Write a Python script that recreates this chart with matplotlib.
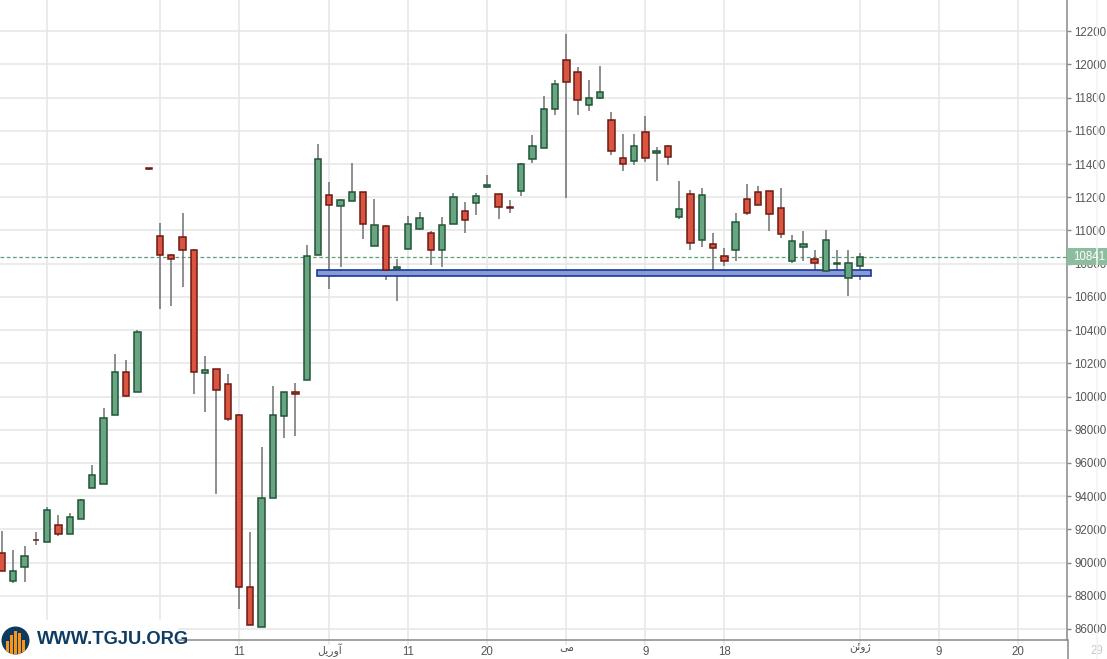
import matplotlib
matplotlib.use("Agg")
import matplotlib.pyplot as plt
from matplotlib.patches import Rectangle, Circle
from matplotlib.lines import Line2D
import matplotlib.transforms as mtransforms

plt.rcParams['font.family'] = ['Liberation Sans', 'DejaVu Sans']

# ---------------- data (daily candles, by trading-day index) ----------------
opens = [90560, 88900, 89750, 91380, 91250, 92240, 91740, 92640, 94510, 94750,
         98870, 101460, 100250, 113720, 109650, 108510, 109590, 108810, 101400, 101640,
         100740, 98870, 88510, 86130, 93870, 98810, 100250, 100980, 108510, 112120,
         111460, 111760, 112300, 109050, 110250, 107660, 108870, 110070, 109830, 108810,
         110370, 111160, 111640, 112600, 112180, 111400, 112360, 114290, 114950, 117300,
         120250, 119530, 117540, 117960, 116640, 114350, 114170, 115920, 114650, 115070,
         110800, 112220, 109410, 109170, 108450, 108810, 111880, 112300, 112360, 111340,
         108150, 108990, 108270, 107540, 107990, 107120, 107840]
highs = [91900, 90750, 90990, 91840, 93340, 92860, 92980, 93830, 95870, 99310,
         102560, 102200, 103990, 113760, 110450, 108580, 111050, 108890, 102440, 101640,
         101360, 98950, 91840, 96960, 100630, 100250, 100810, 109130, 115210, 112920,
         111900, 114050, 112300, 111880, 110310, 108300, 110860, 111100, 109950, 110800,
         112240, 111700, 112240, 113330, 112180, 111820, 114050, 115740, 118080, 119050,
         121820, 119830, 119050, 119890, 117120, 115800, 115800, 116880, 115010, 115130,
         112960, 112420, 112540, 109830, 108930, 111040, 112780, 112660, 112360, 112540,
         109710, 109950, 108810, 110010, 108810, 108810, 108630]
lows = [89500, 88780, 88840, 91070, 91250, 91620, 91740, 92640, 94510, 94750,
        98870, 99990, 100250, 113650, 105270, 105450, 106600, 100170, 99090, 94130,
        98540, 87220, 86220, 86130, 93870, 97520, 97640, 100980, 108510, 106490,
        107820, 111760, 109510, 109050, 107040, 105770, 108870, 110010, 107940, 107820,
        110370, 109830, 110920, 112540, 110680, 111040, 112060, 114050, 114950, 116940,
        111980, 116940, 117180, 117900, 114530, 113570, 113930, 114110, 112960, 113930,
        110680, 108840, 109020, 107600, 107840, 108150, 110920, 111520, 109950, 109530,
        108020, 108150, 107360, 107540, 107600, 106040, 107000]
closes = [89510, 89470, 90370, 91340, 93150, 91740, 92720, 93750, 95250, 98690,
          101460, 100050, 103870, 113700, 108540, 108270, 108840, 101460, 101580, 100370,
          98660, 88540, 86220, 93870, 98870, 100250, 100130, 108480, 114290, 111520,
          111820, 112300, 110370, 110310, 107600, 107780, 110370, 110740, 108810, 110310,
          112000, 110610, 112060, 112720, 111400, 111370, 113990, 115070, 117300, 118810,
          118930, 117840, 117960, 118330, 114770, 113990, 115070, 114350, 114770, 114410,
          111280, 109230, 112120, 108930, 108150, 110490, 111040, 111520, 110980, 109770,
          109350, 109170, 108020, 109410, 108010, 108020, 108410]

# support zone (blue box)
zone_start, zone_end = 27.9, 77.0
zone_low, zone_high = 107240, 107600

# axis ticks / labels
y_ticks = [86000, 88000, 90000, 92000, 94000, 96000, 98000, 100000, 102000, 104000,
           106000, 108000, 110000, 112000, 114000, 116000, 118000, 120000, 122000]
y_labels = ["86000", "88000", "90000", "92000", "94000", "96000", "98000", "10000", "10200",
            "10400", "10600", "10800", "11000", "11200", "11400", "11600", "11800", "12000", "12200"]
x_ticks = [4, 14, 21, 29, 36, 43, 50, 57, 64, 76, 83, 90]
# Persian month names given in visual (shaped) order since matplotlib has no RTL shaping
x_labels = ["", "", "11", "\uFEDE\uFBFE\uFEAD\uFEED\uFE81", "11", "20", "\uFBFD\uFEE3",
            "9", "18", "\uFEE6\uFE8B\uFEED\uFB8A", "9", "20"]
edge_tick, edge_label = 97, "29"
last_label = "10841"

# ---------------- figure ----------------
W, H = 1107, 659
fig = plt.figure(figsize=(W / 100, H / 100), dpi=100)
ax = fig.add_axes([0, (H - 640) / H, 1067 / W, 640 / H])
ax.set_xlim(-0.18, 94.36)
ax.set_ylim(85332, 123885)

up_fill, up_edge = '#6aa583', '#1f5535'
dn_fill, dn_edge = '#d95441', '#6e1a12'
wick_c = '#707070'
bw = 0.56

for i, (o, h, l, c) in enumerate(zip(opens, highs, lows, closes)):
    ax.add_line(Line2D([i, i], [l, h], color=wick_c, lw=1.1, zorder=2,
                       solid_capstyle='butt'))
    up = c >= o
    bottom = min(o, c)
    height = max(abs(c - o), 40)
    ax.add_patch(Rectangle((i - bw / 2, bottom), bw, height,
                           facecolor=up_fill if up else dn_fill,
                           edgecolor=up_edge if up else dn_edge,
                           lw=1.1, zorder=4))

ax.add_patch(Rectangle((zone_start, zone_low), zone_end - zone_start, zone_high - zone_low,
                       facecolor='#8a9bd2', edgecolor='#1738a0', lw=1.2, zorder=3))

last = closes[-1]
ax.axhline(last, color='#5f9e7c', ls=(0, (3, 2)), lw=0.9, zorder=1.5)

# ticks & grid
ax.set_yticks(y_ticks)
ax.set_yticklabels(y_labels)
ax.set_xticks(x_ticks)
ax.set_xticklabels(x_labels)
ax.yaxis.tick_right()
ax.tick_params(axis='y', length=3, width=1, color='#888888', labelcolor='#555555',
               labelsize=8.3, pad=2.5)
ax.tick_params(axis='x', length=3.6, width=1.1, color='#e6e6e6', labelcolor='#555555',
               labelsize=8.3, pad=1)
shift_up = mtransforms.ScaledTranslation(0, 2.5 / 72, fig.dpi_scale_trans)
for lab in ax.get_xticklabels():
    if any(ord(ch) > 0x600 for ch in lab.get_text()):
        lab.set_fontsize(7.8)
        lab.set_transform(lab.get_transform() + shift_up)
ax.grid(True, color='#e6e6e6', lw=1.1, zorder=0)
ax.set_axisbelow(True)
for s in ['top', 'left']:
    ax.spines[s].set_visible(False)
ax.spines['right'].set_color('#888888')
ax.spines['bottom'].set_color('#888888')
ax.spines['right'].set_linewidth(1.1)
ax.spines['bottom'].set_linewidth(1.1)

# date beyond the last visible column (drawn faintly in the price-scale area)
xtrans = mtransforms.blended_transform_factory(ax.transData, fig.transFigure)
fig.add_artist(Line2D([edge_tick, edge_tick], [0, 1], color='#f2f2f2', lw=1.1,
                      transform=xtrans, zorder=0.5))
ax.text(edge_tick, (H - 651) / H, edge_label, transform=xtrans, ha='center', va='center',
        color='#c8c8c8', fontsize=8.3, clip_on=False)

# right axis line continues to the bottom of the figure
fig.add_artist(Line2D([1067.5 / W, 1067.5 / W], [0, (H - 640) / H], color='#888888',
                      lw=1.1, transform=fig.transFigure))

# last price label
ppd = (123885 - 85332) / 640.0
trans = mtransforms.blended_transform_factory(ax.transAxes, ax.transData)
ax.add_patch(Rectangle((1.0, last - 8.5 * ppd), 40 / 1067, 17 * ppd, transform=trans,
                       facecolor='#8dbd9f', edgecolor='none', clip_on=False, zorder=6))
ax.text(1.0 + 6 / 1067, last, last_label, transform=trans, ha='left', va='center',
        color='white', fontsize=8.3, zorder=7, clip_on=False)

# logo
fig.add_artist(Rectangle((0, 0), 178 / W, 39 / H, transform=fig.transFigure,
                         facecolor='white', edgecolor='none', zorder=10))
lax = fig.add_axes([1 / W, (H - 655) / H, 29 / W, 29 / H], zorder=11)
lax.set_xlim(0, 29)
lax.set_ylim(0, 29)
lax.axis('off')
circ = Circle((14.5, 14.5), 14, facecolor='#0e3a5e', edgecolor='none')
lax.add_patch(circ)
for bx, top in [(4.5, 14), (8.6, 20), (12.7, 24), (16.8, 22), (20.9, 15)]:
    b = Rectangle((bx, 0), 3.0, top, facecolor='#f7941d', edgecolor='none')
    lax.add_patch(b)
    b.set_clip_path(circ)
fig.text(37 / W, (H - 640) / H, "WWW.TGJU.ORG", fontsize=13.2, fontweight='bold',
         color='#0f3c62', va='center', ha='left', zorder=12, family='Liberation Sans')

fig.savefig('out.png', dpi=100)
